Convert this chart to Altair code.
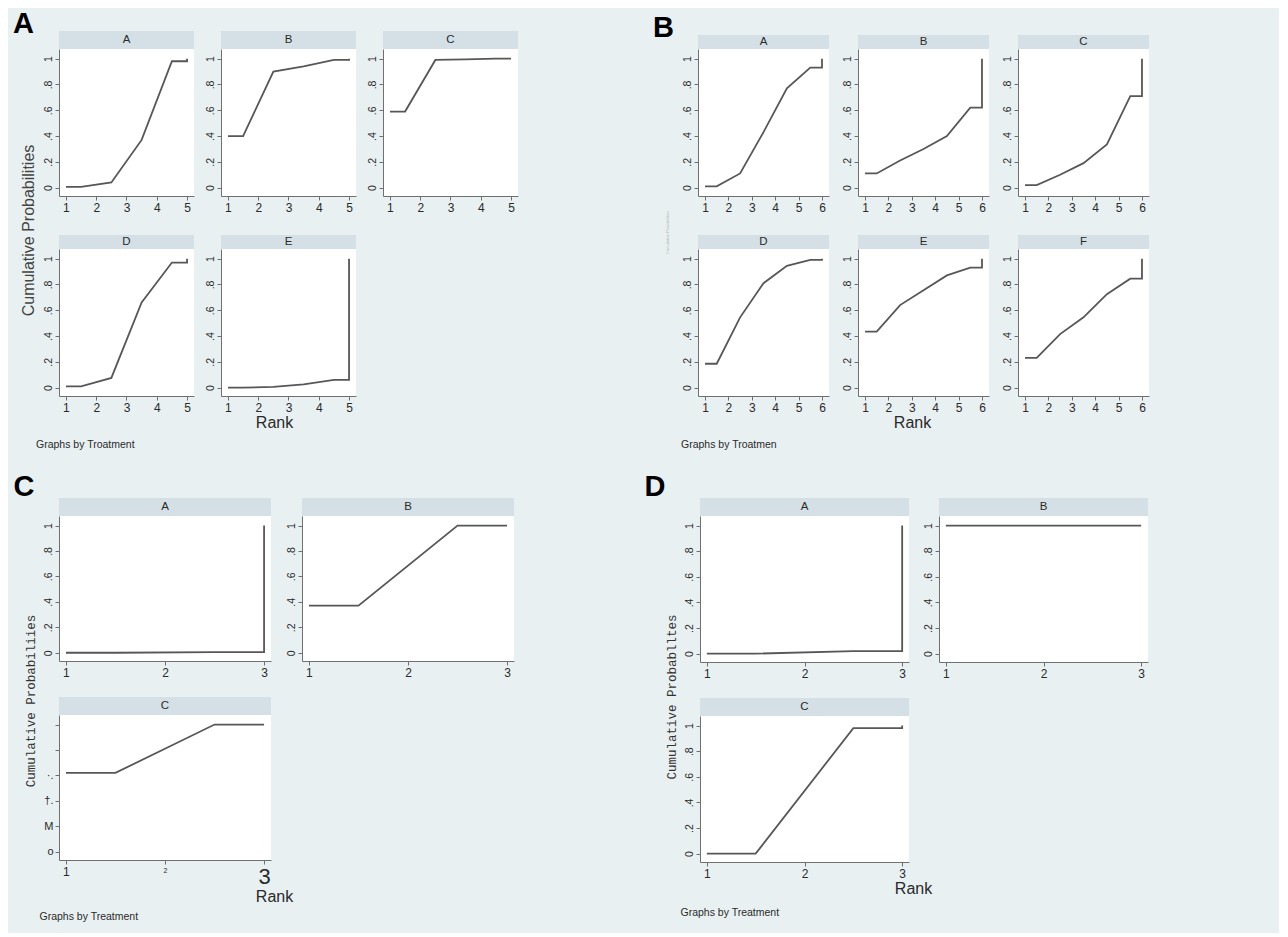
import altair as alt
import pandas as pd

# ---------------- data: cumulative ranking probabilities (rank 1..n) ----------------
A_TREATS = ["A", "B", "C", "D", "E"]
A_A = [0.005, 0.04, 0.37, 0.98, 1.00]
A_B = [0.40, 0.90, 0.94, 0.99, 1.00]
A_C = [0.59, 0.99, 0.995, 1.00, 1.00]
A_D = [0.01, 0.075, 0.66, 0.97, 1.00]
A_E = [0.00, 0.005, 0.025, 0.06, 1.00]

B_TREATS = ["A", "B", "C", "D", "E", "F"]
B_A = [0.01, 0.11, 0.43, 0.77, 0.93, 1.00]
B_B = [0.11, 0.21, 0.30, 0.40, 0.62, 1.00]
B_C = [0.02, 0.10, 0.19, 0.335, 0.71, 1.00]
B_D = [0.185, 0.545, 0.81, 0.945, 0.99, 1.00]
B_E = [0.435, 0.64, 0.755, 0.87, 0.93, 1.00]
B_F = [0.23, 0.415, 0.545, 0.725, 0.845, 1.00]

C_TREATS = ["A", "B", "C"]
C_A = [0.00, 0.005, 1.00]
C_B = [0.37, 1.00, 1.00]
C_C = [0.62, 1.00, 1.00]

D_TREATS = ["A", "B", "C"]
D_A = [0.00, 0.02, 1.00]
D_B = [1.00, 1.00, 1.00]
D_C = [0.00, 0.98, 1.00]

Y_TICKS = [0, 0.2, 0.4, 0.6, 0.8, 1]
Y_TICK_LABELS = ["0", ".2", ".4", ".6", ".8", "1"]
CC_Y_TICK_LABELS = ["o", "M", "\u2020.", "\u00b7.", "", ""]   # garbled labels of panel C, plot C

PANEL_LETTERS = ["A", "B", "C", "D"]
Y_TITLES = ["Cumulative Probabilities", "Cumulative Probabilities",
            "Cumulative Probabiliies", "Cumulative Probablltes"]
FOOTNOTES = ["Graphs by Troatment", "Graphs by Troatmen",
             "Graphs by Treatment", "Graphs by Treatment"]
X_TITLE = "Rank"

# ---------------- style ----------------
BG = "#e9f0f2"
STRIP = "#d4e0e6"
LINE = "#575757"
AXIS = "#707070"
TXT = "#2a2a2a"
SANS = "Liberation Sans"
MONO = "Liberation Mono"
YDOM = [-0.065, 1.075]


def step_frame(cum):
    n = len(cum)
    xs = [1.0, 1.5] + [k + 0.5 for k in range(2, n)] + [float(n), float(n)]
    ys = [cum[0], cum[0]] + [cum[k - 1] for k in range(2, n)] + [cum[n - 2], cum[n - 1]]
    return pd.DataFrame({"rank": xs, "prob": ys, "order": list(range(len(xs)))})


def label_expr(labels):
    arr = ",".join("'" + s + "'" for s in labels)
    return "[" + arr + "][round(datum.value * 5)]"


def subplot(label, cum, w, h, strip_h, xdom, xtitle=None, title_x=None, ylabels="std",
            xlab_special=False):
    n = len(cum)
    xaxis = dict(values=list(range(1, n + 1)), format="d", grid=False, domainColor=AXIS,
                 tickColor=AXIS, tickSize=4, labelFont=SANS, labelFontSize=12,
                 labelColor=TXT, labelPadding=2, labelFlush=False, title=None)
    if xlab_special:
        xaxis["labelFontSize"] = {"condition": [{"test": "datum.value == 3", "value": 22},
                                                {"test": "datum.value == 2", "value": 7}],
                                  "value": 12}
    if xtitle is not None:
        xaxis.update(title=xtitle, titleFont=SANS, titleFontSize=16, titleFontWeight="normal",
                     titleColor=TXT, titlePadding=1, titleX=title_x, titleAlign="center")
    yaxis = dict(values=Y_TICKS, grid=False, domainColor=AXIS, tickColor=AXIS, tickSize=4,
                 labelFont=SANS, labelFontSize=10.5, labelColor=TXT, labelPadding=2, title=None,
                 labelFlush=False)
    if ylabels == "std":
        yaxis.update(labelExpr=label_expr(Y_TICK_LABELS), labelAngle=270,
                     labelAlign="center", labelBaseline="bottom")
    else:
        yaxis.update(labelExpr=label_expr(CC_Y_TICK_LABELS), labelAngle=0,
                     labelAlign="right", labelBaseline="middle", labelFontSize=11)

    line = alt.Chart(step_frame(cum)).mark_line(color=LINE, strokeWidth=1.8).encode(
        x=alt.X("rank:Q", scale=alt.Scale(domain=xdom, nice=False, zero=False), axis=alt.Axis(**xaxis)),
        y=alt.Y("prob:Q", scale=alt.Scale(domain=YDOM, nice=False, zero=False), axis=alt.Axis(**yaxis)),
        order="order:Q",
    )
    sdf = pd.DataFrame({"t": [label]})
    strip = alt.Chart(sdf).mark_rect(color=STRIP).encode(
        x=alt.value(0), x2=alt.value(w), y=alt.value(-strip_h), y2=alt.value(0))
    stext = alt.Chart(sdf).mark_text(font=SANS, fontSize=11.5, color=TXT, baseline="middle").encode(
        text="t:N", x=alt.value(w / 2), y=alt.value(-strip_h / 2))
    return alt.layer(strip, stext, line).properties(width=w, height=h)


def panel(letter, rows, hspace, vspace, ytitle, yfont, yfs, ycolor, yoffset,
          foot, foot_offset, foot_dx, letter_dx, letter_offset):
    row_charts = [alt.hconcat(*r, spacing=hspace) for r in rows]
    grid = alt.vconcat(*row_charts, spacing=vspace,
                       title=alt.TitleParams(ytitle, orient="left", anchor="middle", font=yfont,
                                             fontSize=yfs, fontWeight="normal", color=ycolor,
                                             offset=yoffset))
    g2 = alt.vconcat(grid, title=alt.TitleParams(foot, orient="bottom", anchor="start", font=SANS,
                                                 fontSize=10.5, fontWeight="normal", color=TXT,
                                                 dx=foot_dx, offset=foot_offset))
    return alt.vconcat(g2, title=alt.TitleParams(letter, anchor="start", font=SANS, fontSize=29,
                                                 fontWeight="bold", color="#000000", dx=letter_dx,
                                                 offset=letter_offset))


# ---------------- panel A ----------------
wa, ha = 135, 147
xa = [0.77, 5.23]
pa_rows = [
    [subplot("A", A_A, wa, ha, 18, xa), subplot("B", A_B, wa, ha, 18, xa), subplot("C", A_C, wa, ha, 18, xa)],
    [subplot("D", A_D, wa, ha, 14, xa), subplot("E", A_E, wa, ha, 14, xa, xtitle=X_TITLE, title_x=53)],
]
PA = panel("A", pa_rows, 10, 22, Y_TITLES[0], SANS, 16, "#444444", 6, FOOTNOTES[0], 10, 15, -8, -8)

# ---------------- panel B ----------------
wb, hb = 131, 147
xb = [0.70, 6.30]
pb_rows = [
    [subplot("A", B_A, wb, hb, 14, xb), subplot("B", B_B, wb, hb, 14, xb), subplot("C", B_C, wb, hb, 14, xb)],
    [subplot("D", B_D, wb, hb, 14, xb), subplot("E", B_E, wb, hb, 14, xb, xtitle=X_TITLE, title_x=54),
     subplot("F", B_F, wb, hb, 14, xb)],
]
PB = panel("B", pb_rows, 12, 22, Y_TITLES[1], SANS, 4, "#b0b0b0", 12, FOOTNOTES[1], 10, 15, -13, -8)

# ---------------- panel C ----------------
wc, hc = 212, 145
xc = [0.93, 3.07]
pc_rows = [
    [subplot("A", C_A, wc, hc, 18, xc), subplot("B", C_B, wc, hc, 18, xc)],
    [subplot("C", C_C, wc, hc, 18, xc, xtitle=X_TITLE, title_x=215, ylabels="cc", xlab_special=True)],
]
PC = panel("C", pc_rows, 14, 19, Y_TITLES[2], MONO, 12.5, "#333333", 6, FOOTNOTES[2], 8, 15, -11, -4)

# ---------------- panel D ----------------
wd, hd = 209, 146
xd = [0.93, 3.07]
pd_rows = [
    [subplot("A", D_A, wd, hd, 18, xd), subplot("B", D_B, wd, hd, 18, xd)],
    [subplot("C", D_C, wd, hd, 18, xd, xtitle=X_TITLE, title_x=213)],
]
PD = panel("D", pd_rows, 14, 19, Y_TITLES[3], MONO, 12.5, "#333333", 6, FOOTNOTES[3], 12, 15, -21, -4)

chart = alt.vconcat(
    alt.hconcat(PA, PB, spacing=134),
    alt.hconcat(PC, PD, spacing=130),
    spacing=22,
).configure(
    background=BG, padding={"left": 4, "top": 2, "right": 130, "bottom": 10}
).configure_view(fill="white", stroke=None)

chart.save("out.html", embed_options={"renderer": "svg", "actions": False})
